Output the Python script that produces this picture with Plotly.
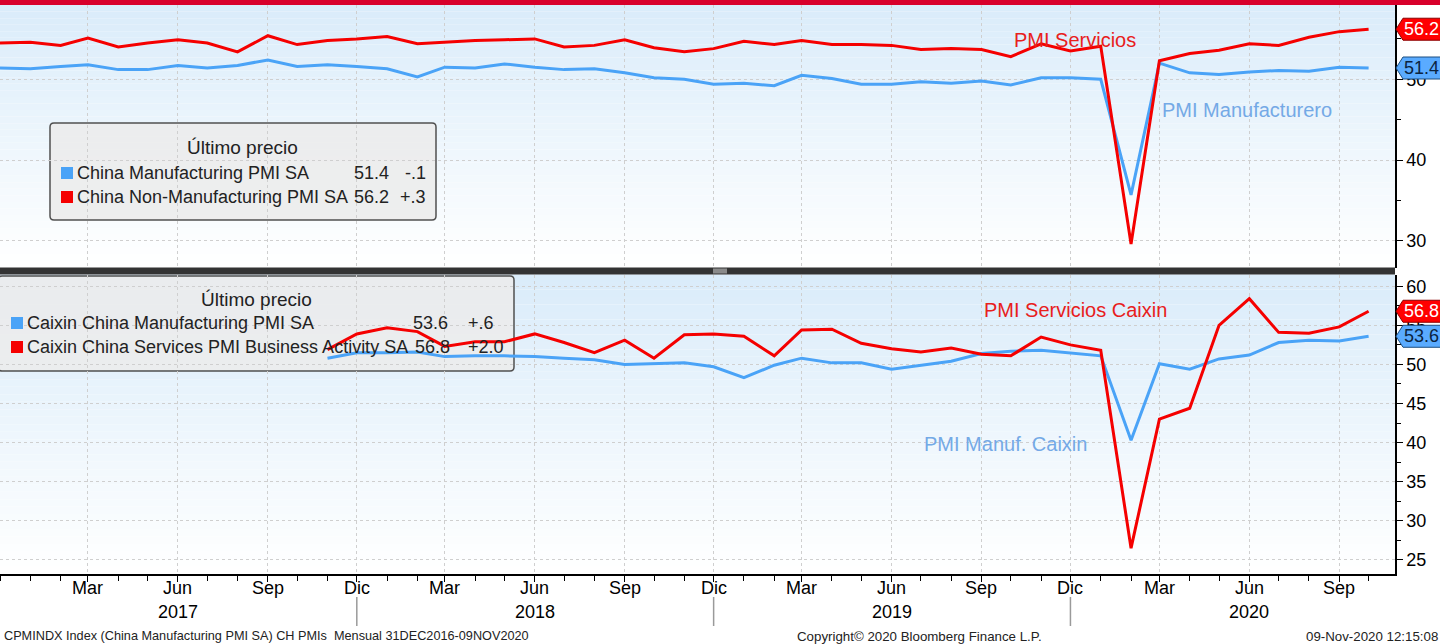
import pandas as pd
import plotly.graph_objects as go

# ------------------------------------------------------------------
# Data (monthly, Dec 2016 - Oct 2020)
# ------------------------------------------------------------------
months = pd.date_range("2016-12-01", "2020-10-01", freq="MS")

official_mfg = [51.4,
                51.3, 51.6, 51.8, 51.2, 51.2, 51.7, 51.4, 51.7, 52.4, 51.6, 51.8, 51.6,
                51.3, 50.3, 51.5, 51.4, 51.9, 51.5, 51.2, 51.3, 50.8, 50.2, 50.0, 49.4,
                49.5, 49.2, 50.5, 50.1, 49.4, 49.4, 49.7, 49.5, 49.8, 49.3, 50.2, 50.2,
                50.0, 35.7, 52.0, 50.8, 50.6, 50.9, 51.1, 51.0, 51.5, 51.4]
official_nonmfg = [54.5,
                   54.6, 54.2, 55.1, 54.0, 54.5, 54.9, 54.5, 53.4, 55.4, 54.3, 54.8, 55.0,
                   55.3, 54.4, 54.6, 54.8, 54.9, 55.0, 54.0, 54.2, 54.9, 53.9, 53.4, 53.8,
                   54.7, 54.3, 54.8, 54.3, 54.3, 54.2, 53.7, 53.8, 53.7, 52.8, 54.4, 53.5,
                   54.1, 29.6, 52.3, 53.2, 53.6, 54.4, 54.2, 55.2, 55.9, 56.2]

# Caixin series shown from Nov 2017
caixin_months = months[11:]
caixin_mfg = [50.8, 51.5,
              51.5, 51.6, 51.0, 51.1, 51.1, 51.0, 50.8, 50.6, 50.0, 50.1, 50.2, 49.7,
              48.3, 49.9, 50.8, 50.2, 50.2, 49.4, 49.9, 50.4, 51.4, 51.7, 51.8, 51.5,
              51.1, 40.3, 50.1, 49.4, 50.7, 51.2, 52.8, 53.1, 53.0, 53.6]
caixin_services = [51.9, 53.9,
                   54.7, 54.2, 52.3, 52.9, 52.9, 53.9, 52.8, 51.5, 53.1, 50.8, 53.8, 53.9,
                   53.6, 51.1, 54.4, 54.5, 52.7, 52.0, 51.6, 52.1, 51.3, 51.1, 53.5, 52.5,
                   51.8, 26.5, 43.0, 44.4, 55.0, 58.4, 54.1, 54.0, 54.8, 56.8]

tick_dates = pd.date_range("2017-03-01", "2020-09-01", freq="3MS")
month_names = {3: "Mar", 6: "Jun", 9: "Sep", 12: "Dic"}
tick_text = [month_names[d.month] for d in tick_dates]
years = [2017, 2018, 2019, 2020]

# ------------------------------------------------------------------
# Style
# ------------------------------------------------------------------
FONT = "Liberation Sans, Arial, sans-serif"
RED = "#f50000"
BLUE = "#4aa3f7"
GRID = "#cfcfcf"
PLOT_W, PLOT_TOP, PLOT_BOTTOM = 1395, 5, 574
PLOT_H = PLOT_BOTTOM - PLOT_TOP


def fx(px):
    return px / PLOT_W


def fy(py):
    return (PLOT_BOTTOM - py) / PLOT_H


def fmt_change(d):
    s = f"{d:+.1f}"
    return s.replace("+0.", "+.").replace("-0.", "-.")


def label(text, x, y, size, color, xanchor="center", xref="paper"):
    fig.add_annotation(xref=xref, yref="paper", x=x, y=fy(y), xanchor=xanchor, yanchor="middle",
                       text=text, showarrow=False, font=dict(size=size, color=color))


top_domain = [fy(267.5), 1]
bot_domain = [0, fy(274.5)]

fig = go.Figure()
fig.add_trace(go.Scatter(x=months, y=official_mfg, mode="lines", line=dict(color=BLUE, width=3),
                         xaxis="x", yaxis="y"))
fig.add_trace(go.Scatter(x=months, y=official_nonmfg, mode="lines", line=dict(color=RED, width=3),
                         xaxis="x", yaxis="y"))
fig.add_trace(go.Scatter(x=caixin_months, y=caixin_mfg, mode="lines", line=dict(color=BLUE, width=3),
                         xaxis="x2", yaxis="y2"))
fig.add_trace(go.Scatter(x=caixin_months, y=caixin_services, mode="lines", line=dict(color=RED, width=3),
                         xaxis="x2", yaxis="y2"))

x_range = ["2016-12-01", "2020-10-28"]
common_x = dict(range=x_range, tickvals=tick_dates, ticktext=tick_text, showgrid=True,
                gridcolor=GRID, griddash="dot", gridwidth=1, zeroline=False, showticklabels=False)
common_y = dict(side="right", showline=True, linecolor="black", linewidth=1.5, ticks="outside",
                ticklen=6, tickcolor="black", showgrid=True, gridcolor=GRID, griddash="dot",
                zeroline=False, tickfont=dict(size=18, color="black"))

fig.update_layout(
    width=1440, height=644,
    margin=dict(l=0, r=1440 - PLOT_W, t=PLOT_TOP, b=644 - PLOT_BOTTOM),
    paper_bgcolor="white", plot_bgcolor="rgba(0,0,0,0)",
    font=dict(family=FONT, color="#222"),
    showlegend=False,
    xaxis=dict(common_x, anchor="y", ticks=""),
    yaxis=dict(common_y, domain=top_domain, anchor="x", range=[26.7, 59.2], dtick=10,
               minor=dict(dtick=5, ticks="outside", ticklen=4, tickcolor="black")),
    xaxis2=dict(common_x, anchor="y2", matches="x", showline=True, linecolor="black", linewidth=1.5,
                ticks="outside", ticklen=6, tickcolor="black",
                minor=dict(dtick="M1", tick0="2016-12-01", ticks="outside", ticklen=5, tickcolor="black")),
    yaxis2=dict(common_y, domain=bot_domain, anchor="x2", range=[23.2, 61.5], dtick=5,
                minor=dict(dtick=2.5, ticks="outside", ticklen=4, tickcolor="black")),
)

# gradient backgrounds
top_c, bot_c = (218, 236, 250), (255, 255, 255)
n_bands = 40
for xr, yr in (("x domain", "y domain"), ("x2 domain", "y2 domain")):
    for i in range(n_bands):
        t = i / (n_bands - 1)
        c = tuple(round(top_c[k] + (bot_c[k] - top_c[k]) * t) for k in range(3))
        fig.add_shape(type="rect", xref=xr, yref=yr, x0=0, x1=1,
                      y0=1 - (i + 1) / n_bands, y1=1 - i / n_bands,
                      fillcolor=f"rgb{c}", line_width=0, layer="below")

# header bar and panel separator
fig.add_shape(type="rect", xref="paper", yref="paper", x0=0, x1=fx(1440), y0=1, y1=fy(0),
              fillcolor="#d8002b", line_width=0)
fig.add_shape(type="rect", xref="paper", yref="paper", x0=0, x1=1, y0=fy(274.5), y1=fy(267.5),
              fillcolor="#333333", line_width=0)
fig.add_shape(type="rect", xref="paper", yref="paper", x0=fx(713), x1=fx(727), y0=fy(273.5),
              y1=fy(268.5), fillcolor="#8a8a8a", line_width=0)


def rounded_box(x0, y0, x1, y1, r=4):
    a, b, c, d = fx(x0), fy(y1), fx(x1), fy(y0)
    rx, ry = r / PLOT_W, r / PLOT_H
    return (f"M {a + rx} {b} L {c - rx} {b} Q {c} {b} {c} {b + ry} L {c} {d - ry} "
            f"Q {c} {d} {c - rx} {d} L {a + rx} {d} Q {a} {d} {a} {d - ry} L {a} {b + ry} "
            f"Q {a} {b} {a + rx} {b} Z")


def add_legend(box, title_xy, rows):
    fig.add_shape(type="path", xref="paper", yref="paper", path=rounded_box(*box),
                  fillcolor="rgba(236,236,236,0.88)", line=dict(color="#505050", width=1.5),
                  layer="between")
    label("Último precio", fx(title_xy[0]), title_xy[1], 19, "#222")
    for (sq_x, name_x, val_x, chg_x, y, color, name, series) in rows:
        fig.add_shape(type="rect", xref="paper", yref="paper", x0=fx(sq_x), x1=fx(sq_x + 12),
                      y0=fy(y + 6), y1=fy(y - 6), fillcolor=color, line_width=0)
        label(name, fx(name_x), y, 18, "#222", xanchor="left")
        label(f"{series[-1]:.1f}", fx(val_x), y, 18, "#222", xanchor="right")
        label(fmt_change(series[-1] - series[-2]), fx(chg_x), y, 18, "#222", xanchor="right")


add_legend((50, 123, 436, 220), (242, 148), [
    (61, 75, 391, 428, 173, BLUE, "China Manufacturing PMI SA", official_mfg),
    (61, 75, 391, 428, 197, RED, "China Non-Manufacturing PMI SA", official_nonmfg),
])
add_legend((-2, 276, 514, 371), (256, 299), [
    (11, 25, 450, 496, 323, BLUE, "Caixin China Manufacturing PMI SA", caixin_mfg),
    (11, 25, 452, 506, 347, RED, "Caixin China Services PMI Business Activity SA", caixin_services),
])


# last value tags on the right axis
def add_tag(yref, value, fill, edge, textcolor):
    fig.add_shape(type="path", xref="paper", yref=yref, xsizemode="pixel", ysizemode="pixel",
                  xanchor=1, yanchor=value, path="M 1 0 L 8 11 L 60 11 L 60 -11 L 8 -11 Z",
                  fillcolor=fill, line=dict(color=edge, width=1))
    fig.add_annotation(xref="paper", yref=yref, x=1, y=value, xanchor="left", yanchor="middle",
                       xshift=7, text=f"{value:.1f}", showarrow=False,
                       font=dict(size=18, color=textcolor))


add_tag("y", official_nonmfg[-1], "#ff0000", "#8a0000", "white")
add_tag("y", official_mfg[-1], "#5aabff", "#1d4f80", "#0b2340")
add_tag("y2", caixin_services[-1], "#ff0000", "#8a0000", "white")
add_tag("y2", caixin_mfg[-1], "#5aabff", "#1d4f80", "#0b2340")

# series labels
for text, x, y, color in [("PMI Servicios", 1012, 40, "#e8201c"),
                          ("PMI Manufacturero", 1160, 110, "#74a9e6"),
                          ("PMI Servicios Caixin", 982, 310, "#e8201c"),
                          ("PMI Manuf. Caixin", 922, 444, "#74a9e6")]:
    label(text, fx(x), y, 20, color, xanchor="left")

# month labels, year labels and year separators
for d, lbl in zip(tick_dates, tick_text):
    label(lbl, d, 588, 18, "black", xref="x2")
for yr in years:
    label(str(yr), f"{yr}-06-01", 612, 18, "black", xref="x2")
for d in tick_dates[tick_dates.month == 12]:
    fig.add_shape(type="line", xref="x2", yref="paper", x0=d, x1=d, y0=fy(597), y1=fy(626),
                  line=dict(color="#9a9a9a", width=1.5))

# footer
label("CPMINDX Index (China Manufacturing PMI SA) CH PMIs  Mensual 31DEC2016-09NOV2020",
      fx(2), 636, 12.7, "#222", xanchor="left")
label("Copyright© 2020 Bloomberg Finance L.P.", fx(795), 636, 13.3, "#222", xanchor="left")
label("09-Nov-2020 12:15:08", fx(1440), 636, 13.3, "#222", xanchor="right")

fig.write_html("out.html", config={"displayModeBar": False},
               post_script="document.body.style.margin='0px';")
